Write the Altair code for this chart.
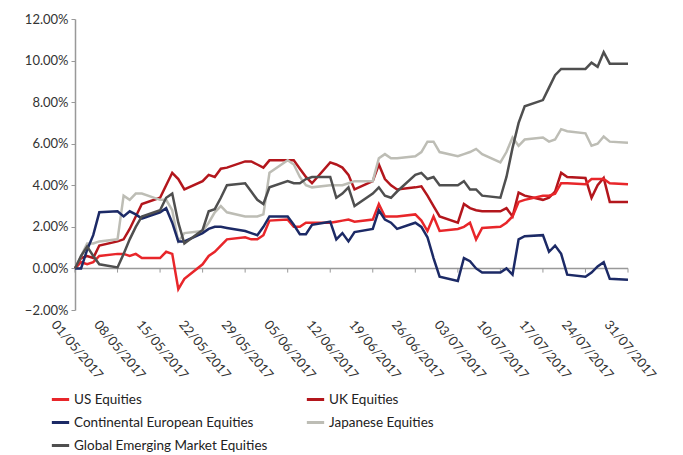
import altair as alt
import pandas as pd

dates = ["2017-05-01","2017-05-02","2017-05-03","2017-05-04","2017-05-05",
         "2017-05-08","2017-05-09","2017-05-10","2017-05-11","2017-05-12",
         "2017-05-15","2017-05-16","2017-05-17","2017-05-18","2017-05-19",
         "2017-05-22","2017-05-23","2017-05-24","2017-05-25","2017-05-26",
         "2017-05-29","2017-05-30","2017-05-31","2017-06-01","2017-06-02",
         "2017-06-05","2017-06-06","2017-06-07","2017-06-08","2017-06-09",
         "2017-06-12","2017-06-13","2017-06-14","2017-06-15","2017-06-16",
         "2017-06-19","2017-06-20","2017-06-21","2017-06-22","2017-06-23",
         "2017-06-26","2017-06-27","2017-06-28","2017-06-29","2017-06-30",
         "2017-07-03","2017-07-04","2017-07-05","2017-07-06","2017-07-07",
         "2017-07-10","2017-07-11","2017-07-12","2017-07-13","2017-07-14",
         "2017-07-17","2017-07-18","2017-07-19","2017-07-20","2017-07-21",
         "2017-07-24","2017-07-25","2017-07-26","2017-07-27","2017-07-28",
         "2017-07-31"]

us_equities = [0.0, 0.3, 0.2, 0.3, 0.6,
               0.7, 0.7, 0.6, 0.7, 0.5,
               0.5, 0.8, 0.7, -1.0, -0.5,
               0.2, 0.6, 0.8, 1.1, 1.4,
               1.5, 1.4, 1.4, 1.6, 2.3,
               2.35, 2.0, 2.0, 2.2, 2.2,
               2.2, 2.25, 2.3, 2.35, 2.25,
               2.35, 3.1, 2.5, 2.5, 2.5,
               2.6, 2.3, 1.8, 2.5, 1.8,
               1.9, 2.0, 2.2, 1.4, 1.95,
               2.0, 2.2, 2.5, 3.2, 3.3,
               3.5, 3.5, 3.6, 4.1, 4.1,
               4.05, 4.3, 4.3, 4.3, 4.1,
               4.05]

uk_equities = [0.0, 0.5, 0.6, 0.5, 1.1,
               1.3, 1.4, 1.9, 2.5, 3.1,
               3.4, 4.0, 4.6, 4.3, 3.8,
               4.2, 4.5, 4.4, 4.8, 4.85,
               5.15, 5.15, 5.0, 4.85, 5.2,
               5.2, 5.2, 4.8, 4.4, 4.1,
               5.1, 5.0, 4.85, 4.5, 3.8,
               4.2, 5.0, 4.3, 4.0, 3.8,
               3.9, 3.95, 3.5, 3.0, 2.5,
               2.2, 3.1, 2.9, 2.8, 2.75,
               2.75, 2.9, 2.5, 3.65, 3.5,
               3.3, 3.4, 3.7, 4.6, 4.4,
               4.35, 3.4, 4.0, 4.35, 3.2,
               3.2]

continental_equities = [0.0, 0.0, 0.9, 1.6, 2.7,
                        2.75, 2.5, 2.75, 2.6, 2.4,
                        2.7, 2.9, 2.2, 1.3, 1.3,
                        1.7, 1.9, 2.0, 2.0, 1.95,
                        1.8, 1.7, 1.6, 2.0, 2.5,
                        2.5, 2.1, 1.65, 1.65, 2.1,
                        2.25, 1.4, 1.7, 1.3, 1.75,
                        1.9, 2.8, 2.35, 2.2, 1.9,
                        2.2, 2.0, 1.5, 0.5, -0.4,
                        -0.6, 0.5, 0.35, 0.0, -0.2,
                        -0.2, 0.0, -0.3, 1.4, 1.55,
                        1.6, 0.8, 1.1, 0.7, -0.3,
                        -0.4, -0.2, 0.1, 0.3, -0.5,
                        -0.55]

japanese_equities = [0.0, 0.6, 1.2, 1.2, 1.3,
                     1.4, 3.5, 3.3, 3.6, 3.6,
                     3.3, 3.3, 2.8, 1.3, 1.7,
                     1.8, 2.2, 2.7, 3.0, 2.7,
                     2.5, 2.5, 2.5, 2.6, 4.6,
                     5.2, 5.0, 4.4, 4.0, 3.9,
                     4.0, 4.0, 4.0, 4.1, 4.2,
                     4.2, 5.3, 5.5, 5.3, 5.3,
                     5.4, 5.6, 6.1, 6.1, 5.6,
                     5.4, 5.5, 5.6, 5.75, 5.5,
                     5.1, 5.6, 6.3, 5.9, 6.2,
                     6.3, 6.1, 6.2, 6.7, 6.6,
                     6.5, 5.9, 6.0, 6.35, 6.1,
                     6.05]

gem_equities = [0.0, 0.6, 1.05, 0.6, 0.2,
                0.05, 0.7, 1.4, 2.0, 2.5,
                2.8, 3.4, 3.6, 2.2, 1.2,
                1.85, 2.75, 2.85, 3.4, 4.0,
                4.1, 3.7, 3.3, 3.1, 3.9,
                4.2, 4.1, 4.1, 4.3, 4.4,
                4.4, 3.4, 3.6, 3.9, 3.0,
                3.6, 3.9, 3.5, 3.4, 3.7,
                4.5, 4.6, 4.3, 4.4, 4.0,
                4.0, 4.2, 3.8, 3.8, 3.5,
                3.4, 4.4, 5.8, 7.0, 7.8,
                8.1, 8.7, 9.3, 9.6, 9.6,
                9.6, 9.9, 9.7, 10.4, 9.85,
                9.85]

series_names = ["US Equities", "UK Equities", "Continental European Equities",
                "Japanese Equities", "Global Emerging Market Equities"]
series_colors = ["#e8262a", "#b3161c", "#1c2a66", "#bdbdb5", "#4f4f4f"]
series_values = [us_equities, uk_equities, continental_equities,
                 japanese_equities, gem_equities]

# legend column split (left column / right column), as in the reference
left_col = [0, 2, 4]
right_col = [1, 3]

tick_dates = ["2017-05-01","2017-05-08","2017-05-15","2017-05-22","2017-05-29",
              "2017-06-05","2017-06-12","2017-06-19","2017-06-26","2017-07-03",
              "2017-07-10","2017-07-17","2017-07-24","2017-07-31"]
y_ticks = [-2, 0, 2, 4, 6, 8, 10, 12]


def make_df(idx):
    rows = []
    for i in idx:
        for d, v in zip(dates, series_values[i]):
            rows.append({"date": d + "T00:00:00", "series": series_names[i],
                         "value": v / 100.0})
    return pd.DataFrame(rows)


def dt(s):
    y, m, d = [int(p) for p in s.split("-")]
    return alt.DateTime(year=y, month=m, date=d)


x_scale = alt.Scale(domain=[dt(tick_dates[0]), dt(tick_dates[-1])])
y_scale = alt.Scale(domain=[y_ticks[0] / 100, y_ticks[-1] / 100], nice=False)

x_enc = alt.X("date:T", scale=x_scale, title=None,
              axis=alt.Axis(values=[dt(t) for t in tick_dates], format="%d/%m/%Y",
                            labelAngle=50, labelAlign="left", labelBaseline="top",
                            domain=False, ticks=False, labelFontSize=13,
                            labelColor="#333333", labelPadding=8, labelOffset=-17,
                            grid=False, labelOverlap=False, labelFont="Lato"))
y_enc = alt.Y("value:Q", scale=y_scale, title=None,
              axis=alt.Axis(values=[v / 100 for v in y_ticks], format=".2%",
                            domainColor="#999999", tickColor="#999999", tickSize=4,
                            labelFontSize=13, labelColor="#333333", labelPadding=3,
                            grid=False, labelFont="Lato", domainWidth=1.5))

legend_style = dict(title=None, orient="none", rowPadding=6,
                    symbolType="stroke", symbolStrokeWidth=3, symbolSize=300,
                    labelFontSize=13.5, labelFont="Lato", labelColor="#222222",
                    labelOffset=3, labelLimit=400)


def line_layer(idx, lx, ly):
    return alt.Chart(make_df(idx)).mark_line(strokeWidth=2.5).encode(
        x=x_enc, y=y_enc,
        color=alt.Color("series:N",
                        scale=alt.Scale(domain=[series_names[i] for i in idx],
                                        range=[series_colors[i] for i in idx]),
                        legend=alt.Legend(legendX=lx, legendY=ly, **legend_style)),
    )


lines_right = line_layer(right_col, 230, 370)
lines_left = line_layer(left_col, -25, 370)

zero_df = pd.DataFrame({"start": [tick_dates[0] + "T00:00:00"],
                        "end": [tick_dates[-1] + "T00:00:00"], "zero": [0.0]})
zero_line = alt.Chart(zero_df).mark_rule(color="#999999", strokeWidth=1.5).encode(
    x=alt.X("start:T", scale=x_scale),
    x2="end:T",
    y=alt.Y("zero:Q", scale=y_scale),
)

tick_df = pd.DataFrame({"date": [t + "T00:00:00" for t in tick_dates],
                        "top": [0.0] * len(tick_dates),
                        "bottom": [-0.002] * len(tick_dates)})
tick_marks = alt.Chart(tick_df).mark_rule(color="#999999", strokeWidth=1).encode(
    x=alt.X("date:T", scale=x_scale),
    y=alt.Y("top:Q", scale=y_scale),
    y2="bottom:Q",
)

chart = alt.layer(zero_line, tick_marks, lines_right, lines_left).resolve_scale(
    color="independent"
).properties(
    width=553, height=291,
    autosize=alt.AutoSizeParams(type="none"),
    padding={"left": 67, "top": 11, "right": 47, "bottom": 144},
).configure_view(stroke=None)

chart.save("out.html", embed_options={"renderer": "svg", "actions": False})
